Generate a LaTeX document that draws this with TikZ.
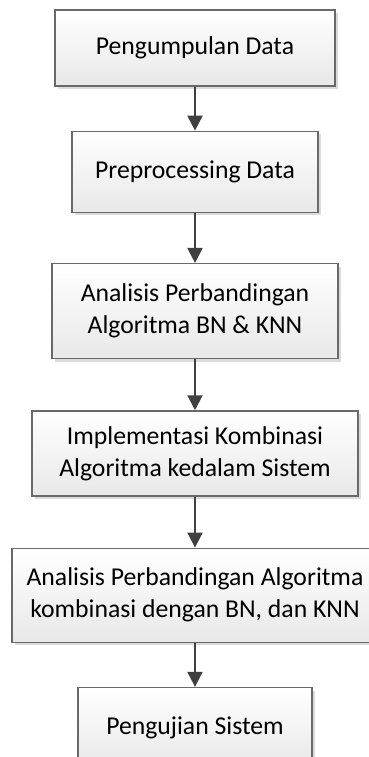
\documentclass[tikz,border=0pt]{standalone}
\usepackage{fontspec}
\setmainfont{Carlito}
\usetikzlibrary{arrows.meta,positioning,shadows}
\definecolor{boxline}{RGB}{105,105,105}
\definecolor{arrline}{RGB}{64,64,64}

\begin{document}
\begin{tikzpicture}[x=1pt, y=1pt,
  every node/.style={font=\fontsize{25.7}{32}\selectfont},
  box/.style={draw=boxline, line width=1.3pt, align=center, inner sep=0pt,
              top color=white, bottom color=black!9,
              drop shadow={shadow xshift=3pt, shadow yshift=-3pt, fill=black!14, opacity=1}},
  arr/.style={-{Triangle[length=15pt, width=15pt]}, draw=arrline, line width=2pt}
]
\useasboundingbox (0,0) rectangle (368,-757);
\node[box, minimum width=280pt, minimum height=76pt] (collect) at (195,-48) {Pengumpulan Data};
\node[box, minimum width=246pt, minimum height=81pt, below=44pt of collect] (prep) {Preprocessing Data};
\node[box, minimum width=286pt, minimum height=95pt, below=50pt of prep] (compare) {Analisis Perbandingan\\Algoritma BN \& KNN};
\node[box, minimum width=326pt, minimum height=85pt, below=51pt of compare] (impl) {Implementasi Kombinasi\\Algoritma kedalam Sistem};
\node[box, minimum width=366pt, minimum height=94pt, below=51pt of impl] (combo) {Analisis Perbandingan Algoritma\\kombinasi dengan BN, dan KNN};
\node[box, minimum width=234pt, minimum height=80pt, below=44pt of combo] (test) {Pengujian Sistem};

\draw[arr] (collect) -- (prep);
\draw[arr] (prep) -- (compare);
\draw[arr] (compare) -- (impl);
\draw[arr] (impl) -- (combo);
\draw[arr] (combo) -- (test);
\end{tikzpicture}
\end{document}
